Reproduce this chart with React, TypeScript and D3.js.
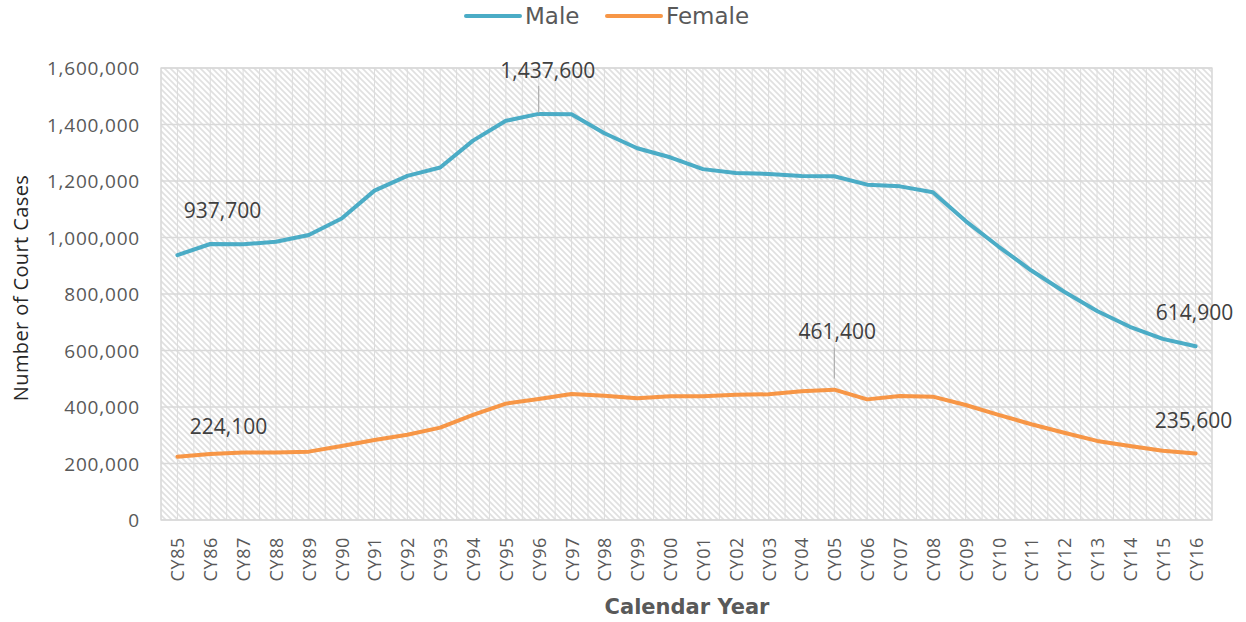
import React from "react";
import * as d3 from "d3";

const years = ["CY85","CY86","CY87","CY88","CY89","CY90","CY91","CY92","CY93","CY94","CY95","CY96","CY97","CY98","CY99","CY00","CY01","CY02","CY03","CY04","CY05","CY06","CY07","CY08","CY09","CY10","CY11","CY12","CY13","CY14","CY15","CY16"];
const male = [937700,977000,976000,985000,1009000,1067000,1166000,1218000,1248000,1343000,1413000,1437600,1436000,1369000,1316000,1284000,1242000,1228000,1225000,1218000,1217000,1187000,1181000,1160000,1058000,968000,883000,808000,740000,684000,641000,614900];
const female = [224100,234000,239000,239000,242000,262000,283000,302000,327000,372000,412000,428000,446000,440000,431000,438000,438000,443000,445000,456000,461400,427000,439000,436600,407000,372000,339000,309000,280000,262000,245000,235600];
const yTicks = [0,200000,400000,600000,800000,1000000,1200000,1400000,1600000];

const W = 1246, H = 622;
const L = 161, R = 1212, T = 68, B = 520;
const MALE_C = "#4bacc6", FEMALE_C = "#f79646";
const fmt = d3.format(",");

type Lbl = { series: "m" | "f"; idx: number; dx: number; dy: number; leader?: [number, number] };
const labels: Lbl[] = [
  { series: "m", idx: 0, dx: 45, dy: -45 },
  { series: "m", idx: 11, dx: 9, dy: -44, leader: [-28, -1] },
  { series: "m", idx: 31, dx: -1, dy: -34 },
  { series: "f", idx: 0, dx: 51, dy: -31 },
  { series: "f", idx: 20, dx: 3, dy: -59, leader: [-42, -11] },
  { series: "f", idx: 31, dx: -2, dy: -33 },
];

export default function App() {
  const x = d3.scaleBand<string>().domain(years).range([L, R]);
  const y = d3.scaleLinear().domain([0, 1600000]).range([B, T]);
  const cx = (i: number) => (x(years[i]) as number) + x.bandwidth() / 2;
  const line = d3.line<number>().x((_, i) => cx(i)).y((d) => y(d));
  const bw = x.bandwidth();
  const vLines: number[] = [];
  years.forEach((yr, i) => {
    const x0 = x(yr) as number;
    vLines.push(x0, x0 + bw / 2);
    if (i === years.length - 1) vLines.push(x0 + bw);
  });
  const numFont = "'Open Sans', sans-serif";
  return (
    <svg width={W} height={H} style={{ position: "absolute", left: 0, top: 0, background: "#fff" }}>
      <defs>
        <pattern id="hatch" width={6} height={6} patternUnits="userSpaceOnUse">
          <rect width={6} height={6} fill="#ffffff" />
          <path d="M-1,-1 L7,7 M-1,5 L1,7 M5,-1 L7,1" stroke="#e0e0e0" strokeWidth={1.6} />
        </pattern>
      </defs>
      <rect x={L} y={T} width={R - L} height={B - T} fill="url(#hatch)" />
      {vLines.map((v, i) => (
        <line key={"v" + i} x1={v} x2={v} y1={T} y2={B} stroke="#dcdcdc" strokeWidth={1} />
      ))}
      {yTicks.map((t) => (
        <line key={"h" + t} x1={L} x2={R} y1={y(t)} y2={y(t)} stroke="#d9d9d9" strokeWidth={1.3} />
      ))}
      <rect x={L} y={T} width={R - L} height={B - T} fill="none" stroke="#d9d9d9" strokeWidth={1.3} />
      {yTicks.map((t) => (
        <text key={"yt" + t} x={140} y={y(t)} textAnchor="end" dominantBaseline="central"
          fontFamily={numFont} fontSize={19} letterSpacing={0.8} fill="#595959">{fmt(t)}</text>
      ))}
      {years.map((yr, i) => (
        <text key={"xt" + yr} transform={`translate(${cx(i)},537) rotate(-90)`} textAnchor="end"
          dominantBaseline="central" fontFamily={numFont} fontSize={18} letterSpacing={0.6} fill="#595959">{yr}</text>
      ))}
      <path d={line(male) || ""} fill="none" stroke={MALE_C} strokeWidth={4} strokeLinejoin="round" strokeLinecap="round" />
      <path d={line(female) || ""} fill="none" stroke={FEMALE_C} strokeWidth={4} strokeLinejoin="round" strokeLinecap="round" />
      {labels.map((lb, k) => {
        const v = lb.series === "m" ? male[lb.idx] : female[lb.idx];
        const px = cx(lb.idx), py = y(v);
        return (
          <g key={"lb" + k}>
            {lb.leader && (
              <line x1={px} x2={px} y1={py + lb.leader[0]} y2={py + lb.leader[1]} stroke="#a6a6a6" strokeWidth={1} />
            )}
            <text x={px + lb.dx} y={py + lb.dy} textAnchor="middle" dominantBaseline="central"
              fontFamily={numFont} fontSize={21} fill="#404040">{fmt(v)}</text>
          </g>
        );
      })}
      <text transform="translate(20,288) rotate(-90)" textAnchor="middle" dominantBaseline="central"
        fontFamily={numFont} fontSize={20} letterSpacing={0.4} fill="#262626">Number of Court Cases</text>
      <text x={687} y={607} textAnchor="middle" dominantBaseline="central"
        fontFamily="'DejaVu Sans', sans-serif" fontWeight="bold" fontSize={21} fill="#595959">Calendar Year</text>
      <g fontFamily="'DejaVu Sans', sans-serif" fontSize={23} fill="#595959">
        <line x1={466} x2={520} y1={16} y2={16} stroke={MALE_C} strokeWidth={4} strokeLinecap="round" />
        <text x={525} y={16} dominantBaseline="central">Male</text>
        <line x1={607} x2={661} y1={16} y2={16} stroke={FEMALE_C} strokeWidth={4} strokeLinecap="round" />
        <text x={666} y={16} dominantBaseline="central">Female</text>
      </g>
    </svg>
  );
}
